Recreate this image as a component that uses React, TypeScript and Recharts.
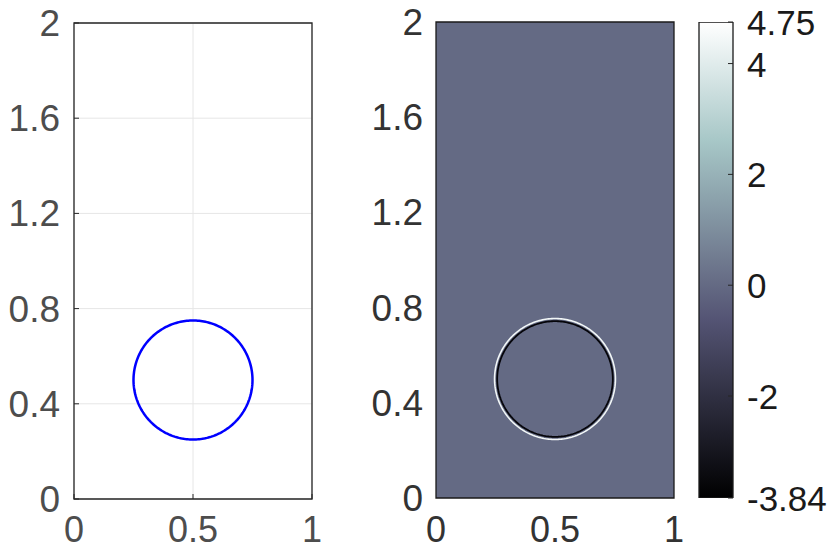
import React from 'react';
import { LineChart, Line, ComposedChart, Bar, XAxis, YAxis, CartesianGrid, ReferenceArea } from 'recharts';

const xTicks = [0, 0.5, 1];
const yTicks = [0, 0.4, 0.8, 1.2, 1.6, 2];

// interface: one circle, centre + radius
const circleCenter = { x: 0.5, y: 0.5 };
const circleRadius = 0.25;
// field: thin dipole ring around the interface
const ringOuterRadius = 0.254;
const ringInnerRadius = 0.243;

const fieldMin = -3.84;
const fieldMax = 4.75;
const fieldBackground = 0;
const colorbarTicks = [-3.84, -2, 0, 2, 4, 4.75];

const FONT = '"Liberation Sans", Arial, Helvetica, sans-serif';
const FONT_SIZE = 37;

function circlePoints(r: number) {
  const pts = [];
  const n = 240;
  for (let i = 0; i <= n; i++) {
    const a = (i / n) * Math.PI * 2;
    pts.push({ x: circleCenter.x + r * Math.cos(a), y: circleCenter.y + r * Math.sin(a) });
  }
  return pts;
}

// matlab "bone" colormap
function bone(t: number) {
  const c = (v: number) => Math.max(0, Math.min(1, v));
  const hr = c(t / 0.375);
  const hg = c((t - 0.375) / 0.375);
  const hb = c((t - 0.75) / 0.25);
  const r = (7 * t + hb) / 8;
  const g = (7 * t + hg) / 8;
  const b = (7 * t + hr) / 8;
  const h = (v: number) => Math.round(v * 255).toString(16).padStart(2, '0');
  return `#${h(r)}${h(g)}${h(b)}`;
}
const norm = (v: number) => (v - fieldMin) / (fieldMax - fieldMin);
const boneStops = [0, 0.125, 0.25, 0.375, 0.5, 0.625, 0.75, 0.875, 1];

const interfaceLine = circlePoints(circleRadius);
const ringOuter = circlePoints(ringOuterRadius);
const ringInner = circlePoints(ringInnerRadius);
const colorbarData = [{ name: 'field', range: [fieldMin, fieldMax] }];

const YTick = (props: any) => {
  const { x, y, payload, color, mark } = props;
  return (
    <g>
      {mark && <line x1={x + 14} x2={x + 19} y1={y} y2={y} stroke="#262626" strokeWidth={1} />}
      <text x={x} y={y} dy={13} textAnchor="end" fill={color} fontSize={FONT_SIZE} fontFamily={FONT}>
        {payload.value}
      </text>
    </g>
  );
};

const XTick = (props: any) => {
  const { x, y, payload, color, mark } = props;
  return (
    <g>
      {mark && <line x1={x} x2={x} y1={y - 18} y2={y - 23} stroke="#262626" strokeWidth={1} />}
      <text x={x} y={y} dy={25} textAnchor="middle" fill={color} fontSize={FONT_SIZE - 1} fontFamily={FONT}>
        {payload.value}
      </text>
    </g>
  );
};

const CTick = (props: any) => {
  const { x, y, payload } = props;
  return (
    <g>
      <line x1={x - 14} x2={x - 19} y1={y} y2={y} stroke="#262626" strokeWidth={1} />
      <text x={x} y={y} dy={13} textAnchor="start" fill="#1a1a1a" fontSize={FONT_SIZE - 2} fontFamily={FONT}>
        {payload.value}
      </text>
    </g>
  );
};

function InterfacePlot() {
  return (
    <LineChart width={330} height={550} margin={{ top: 23, right: 18, bottom: 0, left: 0 }}>
      <CartesianGrid stroke="#e6e6e6" strokeWidth={1} />
      <XAxis type="number" dataKey="x" domain={[0, 1]} ticks={xTicks} allowDataOverflow height={51}
        axisLine={false} tickLine={false} tickSize={0} tickMargin={18}
        tick={<XTick color="#4d4d4d" mark />} />
      <YAxis type="number" domain={[0, 2]} ticks={yTicks} allowDataOverflow width={74}
        axisLine={false} tickLine={false} tickSize={0} tickMargin={14}
        tick={<YTick color="#4d4d4d" mark />} />
      <Line data={interfaceLine} dataKey="y" stroke="#0000ff" strokeWidth={2.5} dot={false}
        isAnimationActive={false} type="linear" />
      <ReferenceArea x1={0} x2={1} y1={0} y2={2} fill="none" stroke="#262626" strokeWidth={1.3} />
    </LineChart>
  );
}

function FieldPlot() {
  return (
    <ComposedChart width={330} height={550} margin={{ top: 22, right: 16, bottom: 0, left: 0 }}>
      <XAxis type="number" dataKey="x" domain={[0, 1]} ticks={xTicks} allowDataOverflow height={52}
        axisLine={false} tickLine={false} tickSize={0} tickMargin={19}
        tick={<XTick color="#333333" />} />
      <YAxis type="number" domain={[0, 2]} ticks={yTicks} allowDataOverflow width={76}
        axisLine={false} tickLine={false} tickSize={0} tickMargin={13}
        tick={<YTick color="#333333" />} />
      <ReferenceArea x1={0} x2={1} y1={0} y2={2} fill={bone(norm(fieldBackground))} fillOpacity={1}
        stroke="#1a1a1a" strokeWidth={1.3} />
      <Line data={ringOuter} dataKey="y" stroke="#f2f7f7" strokeWidth={1.6} dot={false}
        isAnimationActive={false} type="linear" />
      <Line data={ringInner} dataKey="y" stroke="#05050a" strokeWidth={1.8} dot={false}
        isAnimationActive={false} type="linear" />
    </ComposedChart>
  );
}

function Colorbar() {
  return (
    <ComposedChart width={140} height={550} data={colorbarData} barCategoryGap={0}
      margin={{ top: 22, right: 0, bottom: 52, left: 9 }}>
      <defs>
        <linearGradient id="boneGrad" x1="0" y1="1" x2="0" y2="0">
          {boneStops.map((s) => (
            <stop key={s} offset={`${s * 100}%`} stopColor={bone(s)} />
          ))}
        </linearGradient>
      </defs>
      <XAxis type="category" dataKey="name" hide />
      <YAxis type="number" orientation="right" domain={[fieldMin, fieldMax]} ticks={colorbarTicks}
        allowDataOverflow width={97} axisLine={false} tickLine={false} tickSize={0} tickMargin={14}
        interval={0} tick={<CTick />} />
      <Bar dataKey="range" fill="url(#boneGrad)" stroke="#1a1a1a" strokeWidth={1.3}
        isAnimationActive={false} />
    </ComposedChart>
  );
}

export default function App() {
  return (
    <div style={{ position: 'absolute', left: 0, top: 0, width: 830, height: 550, background: '#fff' }}>
      <div style={{ position: 'absolute', left: 0, top: 0 }}>
        <InterfacePlot />
      </div>
      <div style={{ position: 'absolute', left: 360, top: 0 }}>
        <FieldPlot />
      </div>
      <div style={{ position: 'absolute', left: 690, top: 0 }}>
        <Colorbar />
      </div>
    </div>
  );
}
